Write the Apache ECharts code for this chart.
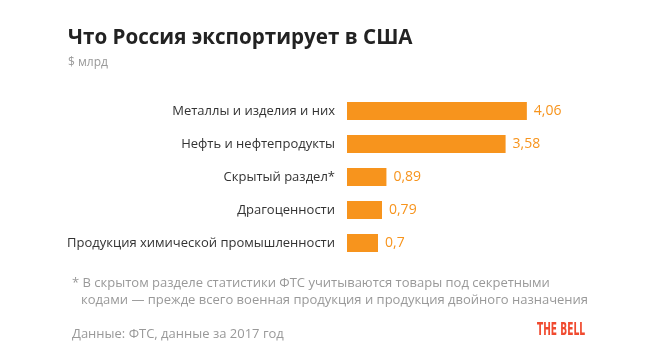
<!DOCTYPE html>
<html><head><meta charset="utf-8">
<script src="https://cdn.jsdelivr.net/npm/echarts@6/dist/echarts.min.js"></script>
<style>html,body{margin:0;padding:0;background:#fff}#c{width:668px;height:362px}</style>
</head><body><div id="c"></div>
<script>
const categories = ['Металлы и изделия и них','Нефть и нефтепродукты','Скрытый раздел*','Драгоценности','Продукция химической промышленности'];
const values = [4.06, 3.58, 0.89, 0.79, 0.7];
const valueLabels = ['4,06','3,58','0,89','0,79','0,7'];

const chart = echarts.init(document.getElementById('c'));
const F = '"Open Sans", "Noto Sans", sans-serif';
const logoFont = 'bold 17px "DejaVu Sans Condensed", "Open Sans", sans-serif';
const mctx = document.createElement('canvas').getContext('2d');
mctx.font = logoFont;
const logoScale = 48 / mctx.measureText('THE BELL').width;
chart.setOption({
  animation: false,
  grid: {left: 347, right: 99.5, top: 94.5, bottom: 102.5},
  xAxis: {type: 'value', min: 0, max: 5, show: false},
  yAxis: {type: 'category', data: categories, inverse: true,
    axisLine: {show: false}, axisTick: {show: false},
    axisLabel: {color: '#333', fontSize: 13, fontFamily: F, margin: 12}},
  series: [{type: 'bar', data: values, barWidth: 18,
    itemStyle: {color: '#f7941d'},
    label: {show: true, position: 'right', distance: 7, color: '#f7941d', fontSize: 14, fontFamily: F,
      formatter: p => valueLabels[p.dataIndex]}}],
  graphic: [
    {type: 'text', left: 68, top: 28, style: {text: 'Что Россия экспортирует в США', fill: '#222', font: 'bold 20.6px ' + F}},
    {type: 'text', left: 68, top: 57, style: {text: '$ млрд', fill: '#999', font: '12px ' + F}},
    {type: 'text', left: 72, top: 277, style: {text: '* В скрытом разделе статистики ФТС учитываются товары под секретными', fill: '#999', font: '13px ' + F}},
    {type: 'text', left: 81, top: 294, style: {text: 'кодами — прежде всего военная продукция и продукция двойного назначения', fill: '#999', font: '13px ' + F}},
    {type: 'text', left: 72, top: 328, style: {text: 'Данные: ФТС, данные за 2017 год', fill: '#999', font: '13px ' + F}},
    {type: 'text', x: 537, y: 331, scaleX: logoScale, style: {text: 'THE BELL', x: 0, y: 0, verticalAlign: 'middle', fill: '#f04a2f', font: logoFont}}
  ]
});
</script></body></html>
